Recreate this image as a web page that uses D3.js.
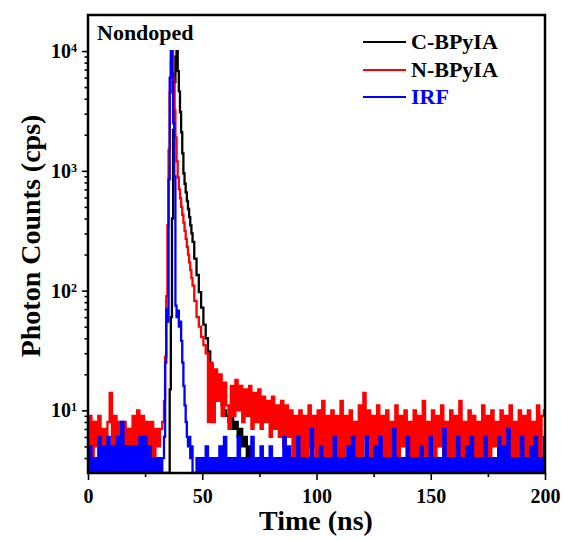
<!DOCTYPE html>
<html><head><meta charset="utf-8">
<script src="https://cdn.jsdelivr.net/npm/d3@7"></script>
<style>
body{margin:0;background:#fff}
text{font-family:"Liberation Serif","Times New Roman",serif;font-weight:bold;fill:#000}
</style>
</head><body>
<svg id="c" width="563" height="540"></svg>
<script>
// Channel times (ns)
const timeNs = [
0,1,2,3,4,5,6,7,8,9,10,11,12,13,14,15,16,17,18,19,20,21,22,23,24,25,26,27,28,29,30,31,32,
33,33.5,34,34.5,35,35.5,36,36.5,37,37.5,38,38.5,39,39.5,40,40.5,41,41.5,42,42.5,43,43.5,44,44.5,45,45.5,46,
47,48,49,50,51,52,53,54,55,56,57,58,59,60,61,62,63,64,65,66,
67,68,69,70,71,72,73,74,75,76,77,78,79,80,81,82,83,84,85,86,
87,88,89,90,91,92,93,94,95,96,97,98,99,100,101,102,103,104,105,106,
107,108,109,110,111,112,113,114,115,116,117,118,119,120,121,122,123,124,125,126,
127,128,129,130,131,132,133,134,135,136,137,138,139,140,141,142,143,144,145,146,
147,148,149,150,151,152,153,154,155,156,157,158,159,160,161,162,163,164,165,166,
167,168,169,170,171,172,173,174,175,176,177,178,179,180,181,182,183,184,185,186,
187,188,189,190,191,192,193,194,195,196,197,198,199,200
];
// C-BPyIA counts (cps)
const countsC = [
3,2,3,2,3,2,3,2,3,2,3,2,3,2,3,2,3,2,3,2,3,2,3,2,3,2,3,2,3,2,3,2,3,
3,3,3,3,3,3,15,60,400,2200,5500,9000,10000,6800,4600,3100,2100,1400,950,780,660,560,480,410,350,300,255,
185,135,97,72,52,40,31,24,19,16,14,12,11,10,9,8,9,7,8,6,
7,5,6,4,5,3,4,3,3,2,3,2,3,2,3,2,3,2,3,2,
3,2,3,2,3,2,3,2,3,2,3,2,3,2,3,2,3,2,3,2,
3,2,3,2,3,2,3,2,3,2,3,2,3,2,3,2,3,2,3,2,
3,2,3,2,3,2,3,2,3,2,3,2,3,2,3,2,3,2,3,2,
3,2,3,2,3,2,3,2,3,2,3,2,3,2,3,2,3,2,3,2,
3,2,3,2,3,2,3,2,3,2,3,2,3,2,3,2,3,2,3,2,
3,2,3,2,3,2,3,2,3,2,3,2,3,2
];
// N-BPyIA counts (cps)
const countsN = [
5,9,4,8,5,9,4,7,5,8,14,5,9,4,8,5,8,4,7,5,9,4,10,5,9,4,8,5,8,4,7,5,7,
8,12,28,90,350,1500,4500,8500,10000,6000,3200,1900,1200,880,700,590,500,430,370,315,270,232,200,172,148,127,110,
82,60,50,41,35,30,8,25,8,22,12,20,9,17,11,7,16,9,18,10,
16,8,15,9,16,7,14,8,15,7,13,8,12,6,13,7,11,6,12,5,
11,6,10,4,9,3,10,4,9,4,11,5,9,4,10,4,12,4,9,4,
10,4,9,4,12,4,9,5,10,4,8,3,11,4,14,6,10,4,9,4,
11,4,9,4,10,4,8,4,11,4,9,5,10,4,8,4,10,4,9,4,
12,4,8,4,10,4,9,5,11,4,8,4,10,4,9,4,12,4,8,4,
10,4,9,4,8,4,11,4,9,4,10,5,8,4,10,4,9,4,11,4,
8,4,10,4,9,4,10,4,8,4,11,4,9,10
];
// IRF counts (cps)
const countsIRF = [
3,5,2,4,3,6,3,5,2,6,3,5,3,6,2,8,3,5,2,5,3,5,2,6,3,6,2,5,3,4,2,4,3,
4,6,25,70,55,850,6000,10000,6500,2500,900,75,60,68,50,55,38,25,16,11,8,6,5,6,4,5,3,
3,4,2,4,3,5,2,4,3,4,2,5,3,6,2,4,3,4,2,6,
3,4,2,4,3,6,2,4,3,5,2,4,3,5,2,4,3,4,2,6,
3,5,2,4,3,6,2,4,3,4,2,7,3,4,2,5,3,4,2,4,
3,6,2,4,3,4,2,5,3,6,2,4,3,4,2,6,3,4,2,5,
3,6,2,4,3,4,2,7,3,4,2,4,3,6,2,4,3,4,2,5,
3,4,2,6,3,4,2,4,3,7,2,4,3,4,2,6,3,4,2,5,
3,6,2,4,3,4,2,6,3,4,2,4,3,6,2,5,3,7,2,4,
3,4,2,6,3,4,2,5,3,6,2,4,3,6
];
const seriesNames = ["C-BPyIA","N-BPyIA","IRF"];
const seriesColors = ["#000000","#ff0000","#0000ff"];
const xMajorTicks = [0,50,100,150,200];
const xMinorTicks = [25,75,125,175];
const yMajorTicks = [10,100,1000,10000];
const yMinorTicks = [4,5,6,7,8,9,20,30,40,50,60,70,80,90,200,300,400,500,600,700,800,900,2000,3000,4000,5000,6000,7000,8000,9000];

const m = {left:88, right:545, top:15, bottom:473};
const svg = d3.select("#c");
const x = d3.scaleLinear().domain([0,200]).range([m.left,m.right]);
const y = d3.scaleLog().domain([3,20000]).range([m.bottom,m.top]);

svg.append("defs").append("clipPath").attr("id","clip")
  .append("rect").attr("x",m.left).attr("y",m.top)
  .attr("width",m.right-m.left).attr("height",m.bottom-m.top);

const seriesVals = [countsC,countsN,countsIRF];
const line = d3.line().curve(d3.curveStep).x((d,i)=>x(timeNs[i])).y(d=>y(Math.max(d,1)));
const gData = svg.append("g").attr("clip-path","url(#clip)");
seriesVals.forEach((vals,k)=>{
  gData.append("path").attr("d",line(vals)).attr("fill","none")
    .attr("stroke",seriesColors[k]).attr("stroke-width",2.3).attr("stroke-linejoin","miter");
});

// axes
const axX = svg.append("g").attr("transform",`translate(0,${m.bottom})`)
  .call(d3.axisBottom(x).tickValues(xMajorTicks).tickSize(7).tickPadding(9).tickSizeOuter(0));
const axXm = svg.append("g").attr("transform",`translate(0,${m.bottom})`)
  .call(d3.axisBottom(x).tickValues(xMinorTicks).tickSize(4).tickFormat(()=>"").tickSizeOuter(0));
const axY = svg.append("g").attr("transform",`translate(${m.left},0)`)
  .call(d3.axisLeft(y).tickValues(yMajorTicks).tickSize(6).tickPadding(5).tickSizeOuter(0).tickFormat(()=>""));
const axYm = svg.append("g").attr("transform",`translate(${m.left},0)`)
  .call(d3.axisLeft(y).tickValues(yMinorTicks).tickSize(3.5).tickSizeOuter(0).tickFormat(()=>""));
[axX,axXm,axY,axYm].forEach(g=>{
  g.select(".domain").remove();
  g.selectAll(".tick line").attr("stroke","#000").attr("stroke-width",1.6);
});
axX.selectAll(".tick text").attr("font-size",20).attr("font-family","Liberation Serif, Times New Roman, serif").attr("font-weight","bold");
axY.selectAll(".tick text").each(function(d){
  const t = d3.select(this);
  t.attr("font-size",20).attr("font-family","Liberation Serif, Times New Roman, serif").attr("font-weight","bold");
  t.text("10");
  t.append("tspan").attr("dy",-6).attr("font-size",12).text(Math.round(Math.log10(d)));
});

// frame
svg.append("rect").attr("x",m.left).attr("y",m.top).attr("width",m.right-m.left).attr("height",m.bottom-m.top)
  .attr("fill","none").attr("stroke","#000").attr("stroke-width",2.5);

// titles
svg.append("text").attr("x",316).attr("y",530).attr("text-anchor","middle").attr("font-size",28).text("Time (ns)");
svg.append("text").attr("transform","translate(40,236) rotate(-90)").attr("text-anchor","middle").attr("font-size",28).text("Photon Counts (cps)");
svg.append("text").attr("x",97).attr("y",40).attr("font-size",22).text("Nondoped");

// legend
const legY = [42,70,97];
seriesNames.forEach((n,k)=>{
  svg.append("line").attr("x1",363).attr("x2",406).attr("y1",legY[k]).attr("y2",legY[k])
    .attr("stroke",seriesColors[k]).attr("stroke-width",2);
  svg.append("text").attr("x",411).attr("y",legY[k]+7).attr("font-size",22)
    .style("fill",k===2?seriesColors[2]:"#000").text(n);
});
if (timeNs.length!==countsC.length||timeNs.length!==countsN.length||timeNs.length!==countsIRF.length) console.error("length mismatch",timeNs.length,countsC.length,countsN.length,countsIRF.length);
</script>
</body></html>
